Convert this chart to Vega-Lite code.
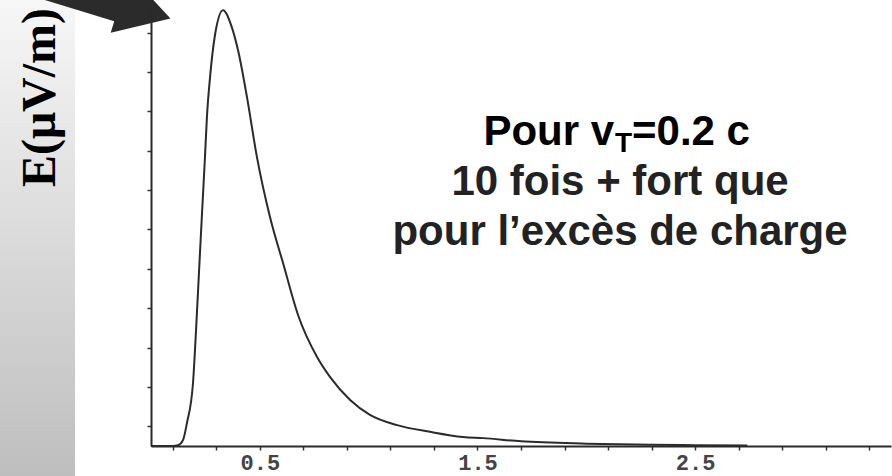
{
  "$schema": "https://vega.github.io/schema/vega-lite/v6.json",
  "width": 740,
  "height": 437,
  "autosize": {"type": "none"},
  "padding": {"left": 151, "top": 9, "right": 1, "bottom": 30},
  "background": "white",
  "config": {"view": {"stroke": null}},
  "datasets": {
    "field": [
      {"x": 0, "E": 0},
      {"x": 0.1, "E": 0},
      {"x": 0.124, "E": 2},
      {"x": 0.147, "E": 15},
      {"x": 0.165, "E": 58},
      {"x": 0.193, "E": 160},
      {"x": 0.207, "E": 295},
      {"x": 0.221, "E": 447},
      {"x": 0.234, "E": 587},
      {"x": 0.248, "E": 734},
      {"x": 0.257, "E": 836},
      {"x": 0.271, "E": 935},
      {"x": 0.294, "E": 1044},
      {"x": 0.331, "E": 1107},
      {"x": 0.37, "E": 1066},
      {"x": 0.4, "E": 1005},
      {"x": 0.441, "E": 886},
      {"x": 0.487, "E": 733},
      {"x": 0.547, "E": 581},
      {"x": 0.607, "E": 464},
      {"x": 0.676, "E": 332},
      {"x": 0.763, "E": 226},
      {"x": 0.823, "E": 175},
      {"x": 0.915, "E": 117},
      {"x": 1.006, "E": 79},
      {"x": 1.131, "E": 53},
      {"x": 1.282, "E": 36},
      {"x": 1.434, "E": 23},
      {"x": 1.526, "E": 20},
      {"x": 1.7, "E": 12},
      {"x": 2.0, "E": 6},
      {"x": 2.3, "E": 3},
      {"x": 2.5, "E": 2},
      {"x": 2.74, "E": 1}
    ]
  },
  "layer": [
    {
      "data": {"name": "field"},
      "mark": {"type": "line", "interpolate": "monotone", "color": "#2b2b2b", "strokeWidth": 2},
      "encoding": {
        "x": {
          "field": "x",
          "type": "quantitative",
          "scale": {"domain": [0, 3.4]},
          "axis": {
            "orient": "bottom",
            "title": null,
            "grid": false,
            "values": [0.1,0.2,0.3,0.4,0.5,0.6,0.7,0.8,0.9,1,1.1,1.2,1.3,1.4,1.5,1.6,1.7,1.8,1.9,2,2.1,2.2,2.3,2.4,2.5,2.6,2.7,2.8,2.9,3,3.1,3.2,3.3],
            "labelExpr": "indexof([0.5, 1, 1.5, 2, 2.5, 3], datum.value) >= 0 ? format(datum.value, '~g') : ''",
            "domainColor": "#2a2a2a",
            "domainWidth": 2,
            "tickSize": 4,
            "tickWidth": 1.5,
            "tickColor": "#333333",
            "labelPadding": 2,
            "labelFont": "Liberation Mono",
            "labelFontSize": 22,
            "labelFontWeight": "bold",
            "labelColor": "#444444",
            "labelBaseline": "top",
            "labelFlush": false,
            "labelOverlap": false
          }
        },
        "y": {
          "field": "E",
          "type": "quantitative",
          "scale": {"domain": [0, 1110]},
          "axis": {
            "orient": "left",
            "zindex": 2,
            "grid": false,
            "values": [50,100,150,200,250,300,350,400,450,500,550,600,650,700,750,800,850,900,950,1000,1050,1100],
            "labelExpr": "datum.value % 200 === 0 ? format(datum.value, 'd') : ''",
            "domainColor": "#2a2a2a",
            "domainWidth": 2,
            "tickSize": 4,
            "tickWidth": 1.5,
            "tickColor": "#333333",
            "labelPadding": 4,
            "labelFont": "Liberation Mono",
            "labelFontSize": 22,
            "labelFontWeight": "bold",
            "labelColor": "#444444",
            "labelBaseline": "middle",
            "labelOverlap": false,
            "title": "E(μV/m)",
            "titleFont": "Liberation Serif",
            "titleFontSize": 48,
            "titleFontWeight": "bold",
            "titleColor": "#000000",
            "titleAngle": 270,
            "titleAlign": "center",
            "titleBaseline": "middle",
            "titleX": -111,
            "titleY": 88
          }
        }
      }
    },
    {
      "data": {"values": [{}]},
      "mark": {
        "type": "rect",
        "clip": false,
        "fill": {
          "gradient": "linear",
          "x1": 0, "y1": 0, "x2": 0, "y2": 1,
          "stops": [
            {"offset": 0, "color": "#f8f8f8"},
            {"offset": 1, "color": "#bebebe"}
          ]
        }
      },
      "encoding": {
        "x": {"datum": -0.72, "type": "quantitative", "scale": {"domain": [0, 3.4]}},
        "x2": {"datum": -0.349},
        "y": {"datum": -80, "type": "quantitative", "scale": {"domain": [0, 1110]}},
        "y2": {"datum": 1160}
      }
    },
    {
      "data": {"values": [{}]},
      "mark": {
        "type": "point",
        "shape": "M -1 -0.19 L 0.47 -0.19 L 0.47 -0.31 L 1 0 L 0.47 0.31 L 0.47 0.19 L -1 0.19 Z",
        "size": 40000,
        "angle": 17,
        "filled": true,
        "color": "#2b2b2b",
        "opacity": 1,
        "strokeWidth": 0,
        "clip": false
      },
      "encoding": {
        "x": {"datum": -0.35, "type": "quantitative", "scale": {"domain": [0, 3.4]}},
        "y": {"datum": 1160, "type": "quantitative", "scale": {"domain": [0, 1110]}}
      }
    },
    {
      "data": {"values": [{"t": "Pour v"}]},
      "mark": {"type": "text", "font": "Liberation Sans", "fontWeight": "bold", "fontSize": 42, "align": "right", "baseline": "alphabetic", "color": "#000000"},
      "encoding": {
        "x": {"datum": 2.128, "type": "quantitative", "scale": {"domain": [0, 3.4]}},
        "y": {"datum": 764.5, "type": "quantitative", "scale": {"domain": [0, 1110]}},
        "text": {"field": "t"}
      }
    },
    {
      "data": {"values": [{"t": "T"}]},
      "mark": {"type": "text", "font": "Liberation Sans", "fontWeight": "bold", "fontSize": 28, "align": "left", "baseline": "alphabetic", "color": "#000000"},
      "encoding": {
        "x": {"datum": 2.132, "type": "quantitative", "scale": {"domain": [0, 3.4]}},
        "y": {"datum": 746.8, "type": "quantitative", "scale": {"domain": [0, 1110]}},
        "text": {"field": "t"}
      }
    },
    {
      "data": {"values": [{"t": "=0.2 c"}]},
      "mark": {"type": "text", "font": "Liberation Sans", "fontWeight": "bold", "fontSize": 42, "align": "left", "baseline": "alphabetic", "color": "#000000"},
      "encoding": {
        "x": {"datum": 2.21, "type": "quantitative", "scale": {"domain": [0, 3.4]}},
        "y": {"datum": 764.5, "type": "quantitative", "scale": {"domain": [0, 1110]}},
        "text": {"field": "t"}
      }
    },
    {
      "data": {"values": [{"t": "10 fois + fort que"}]},
      "mark": {"type": "text", "font": "Liberation Sans", "fontWeight": "bold", "fontSize": 42, "align": "center", "baseline": "alphabetic", "color": "#222222"},
      "encoding": {
        "x": {"datum": 2.155, "type": "quantitative", "scale": {"domain": [0, 3.4]}},
        "y": {"datum": 637.5, "type": "quantitative", "scale": {"domain": [0, 1110]}},
        "text": {"field": "t"}
      }
    },
    {
      "data": {"values": [{"t": "pour l’excès de charge"}]},
      "mark": {"type": "text", "font": "Liberation Sans", "fontWeight": "bold", "fontSize": 42, "align": "center", "baseline": "alphabetic", "color": "#222222"},
      "encoding": {
        "x": {"datum": 2.155, "type": "quantitative", "scale": {"domain": [0, 3.4]}},
        "y": {"datum": 510.5, "type": "quantitative", "scale": {"domain": [0, 1110]}},
        "text": {"field": "t"}
      }
    }
  ]
}
